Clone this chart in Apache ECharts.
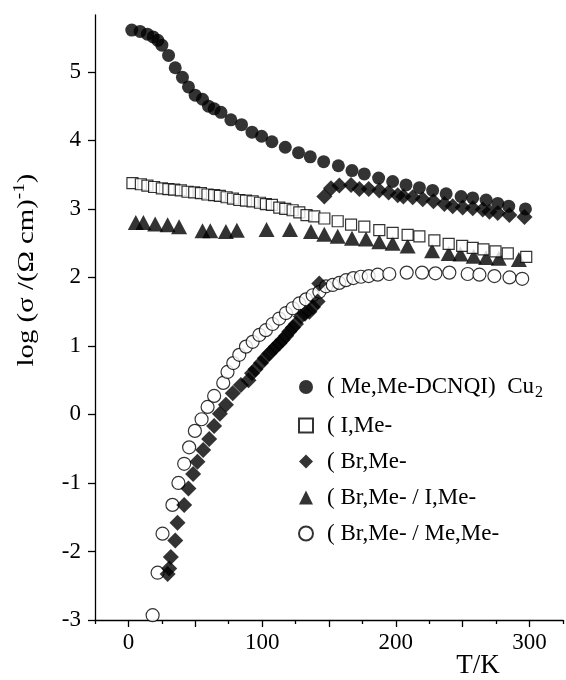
<!DOCTYPE html>
<html>
<head>
<meta charset="utf-8">
<script src="https://cdn.jsdelivr.net/npm/echarts@6/dist/echarts.min.js"></script>
<style>
html,body{margin:0;padding:0;background:#fff;}
#chart{width:566px;height:680px;}
</style>
</head>
<body>
<div id="chart"></div>
<script>
// ---- Data ----
const seriesNames = ['( Me,Me-DCNQI)  Cu', '( I,Me-', '( Br,Me-', '( Br,Me- / I,Me-', '( Br,Me- / Me,Me-'];

// (Me,Me-DCNQI)Cu2 : filled circles
const meMeT   = [2.5, 8.7, 14.2, 18.5, 22, 25, 30, 35, 40.4, 44.9, 49.9, 55.4, 59.9, 64.1, 69.2, 76.6, 84.6, 92.4, 99.6, 107.3, 117.3, 127.2, 136, 146, 157, 167.2, 176.4, 187.1, 197.6, 207.6, 217.6, 227.5, 237.6, 248.8, 257.5, 267.5, 276.2, 284.4, 296.9];
const meMeLog = [5.61, 5.59, 5.55, 5.51, 5.46, 5.39, 5.24, 5.06, 4.92, 4.78, 4.66, 4.60, 4.50, 4.46, 4.41, 4.30, 4.23, 4.12, 4.06, 3.98, 3.90, 3.82, 3.76, 3.69, 3.63, 3.56, 3.51, 3.45, 3.40, 3.35, 3.31, 3.27, 3.22, 3.18, 3.16, 3.13, 3.08, 3.04, 3.00];

// (I,Me-DCNQI)Cu2 : open squares
const iMeT   = [3, 9.3, 14.2, 19.2, 25, 29.9, 34.2, 39.2, 44.2, 49.2, 54.2, 59.1, 64.1, 68.4, 73.4, 78.2, 82.9, 87.9, 92.9, 98.4, 102.8, 107.3, 112.8, 117.3, 122.8, 127.8, 133.2, 139, 146.5, 156.5, 166.5, 176.4, 187.6, 197.6, 208.8, 217.6, 228.8, 239.5, 249.6, 257.5, 265.5, 274.5, 283.7, 297.5];
const iMeLog = [3.375, 3.36, 3.34, 3.32, 3.30, 3.29, 3.28, 3.27, 3.25, 3.24, 3.23, 3.21, 3.20, 3.19, 3.17, 3.15, 3.13, 3.12, 3.11, 3.09, 3.07, 3.06, 3.02, 3.00, 2.98, 2.95, 2.91, 2.89, 2.86, 2.82, 2.77, 2.74, 2.69, 2.65, 2.62, 2.60, 2.54, 2.49, 2.46, 2.43, 2.41, 2.38, 2.35, 2.30];

// (Br,Me-DCNQI)Cu2 : filled diamonds
const brMeT   = [29.3, 30.5, 31.7, 35, 36.7, 41.7, 44.9, 48.4, 51.6, 55.9, 60.4, 64.1, 68.4, 72.9, 78, 84.1, 89.8, 92.4, 95, 99.1, 102, 105.3, 108, 110.3, 113, 115.3, 118, 120.3, 123, 125.3, 129, 132, 135.3, 138, 141.5, 142.7, 146.5, 151.5, 157.7, 166.5, 172.7, 179.7, 187.6, 194.6, 201.4, 205.6, 212.6, 220.1, 228.1, 236.3, 242.5, 250, 257.5, 265, 270, 276.2, 284.9, 296.2];
const brMeLog = [-2.33, -2.25, -2.08, -1.84, -1.58, -1.32, -1.08, -0.87, -0.69, -0.52, -0.36, -0.17, 0.01, 0.14, 0.31, 0.43, 0.50, 0.60, 0.66, 0.75, 0.82, 0.89, 0.94, 0.99, 1.04, 1.09, 1.15, 1.21, 1.27, 1.32, 1.43, 1.47, 1.50, 1.57, 1.65, 1.91, 3.18, 3.30, 3.34, 3.35, 3.29, 3.29, 3.27, 3.24, 3.20, 3.18, 3.17, 3.14, 3.11, 3.07, 3.04, 3.02, 3.01, 2.99, 2.96, 2.94, 2.91, 2.88];

// (Br,Me- / I,Me-DCNQI)Cu2 : filled triangles
const brIT   = [5.5, 11.2, 20, 29.3, 37.9, 55.4, 61.2, 72.9, 81.1, 103.3, 120.8, 136.5, 146.5, 156.5, 167.2, 177.7, 187.6, 197.6, 208.8, 227.1, 239.5, 248.3, 258.2, 267.5, 277, 292];
const brILog = [2.80, 2.80, 2.78, 2.77, 2.74, 2.68, 2.68, 2.67, 2.69, 2.70, 2.70, 2.67, 2.63, 2.60, 2.57, 2.56, 2.52, 2.50, 2.46, 2.39, 2.35, 2.34, 2.31, 2.29, 2.28, 2.26];

// (Br,Me- / Me,Me-DCNQI)Cu2 : open circles
const brMeMeT   = [18.1, 21.8, 25.5, 32.9, 37.4, 41.7, 45.4, 49.7, 54.7, 59.2, 64.1, 70.9, 74.1, 78.4, 82.9, 87.9, 92.9, 97.9, 102.8, 107.8, 112.8, 117.8, 122.8, 127.8, 132.8, 137.8, 142.8, 147.8, 152.8, 157.7, 162.7, 168.2, 173.9, 179.7, 186.4, 195.1, 208.1, 219.6, 229.6, 240, 253.7, 262.5, 273.7, 285, 294.5];
const brMeMeLog = [-2.93, -2.31, -1.74, -1.32, -1.00, -0.72, -0.48, -0.24, -0.07, 0.11, 0.27, 0.46, 0.62, 0.75, 0.87, 0.99, 1.06, 1.16, 1.23, 1.32, 1.40, 1.48, 1.55, 1.62, 1.68, 1.74, 1.79, 1.87, 1.89, 1.92, 1.96, 1.99, 2.01, 2.02, 2.04, 2.05, 2.07, 2.07, 2.06, 2.07, 2.05, 2.04, 2.02, 2.00, 1.98];

// axis ticks / labels
const xLabelValues = [0, 100, 200, 300];
const xMajorTicks  = [0, 50, 100, 150, 200, 250, 300];
const xMinorTicks  = [-25, 25, 75, 125, 175, 225, 275, 325];
const yTickValues  = [-3, -2, -1, 0, 1, 2, 3, 4, 5];

const zip = (a, b) => a.map((v, i) => [v, b[i]]);
const FONT = 'Liberation Serif';

const chart = echarts.init(document.getElementById('chart'), null, {renderer: 'canvas'});

const filled = {color: '#000'};
const hollow = {color: '#fff', borderColor: '#000', borderWidth: 1.2};

chart.setOption({
  animation: false,
  backgroundColor: '#fff',
  grid: {left: 95, right: 3, top: 15, bottom: 60, containLabel: false},
  xAxis: [{
    type: 'value', min: -25, max: 325, interval: 25,
    axisLine: {show: true, onZero: false, lineStyle: {color: '#000', width: 1.3}},
    axisTick: {show: true, inside: false, length: 7, customValues: xMajorTicks, lineStyle: {color: '#000', width: 1.3}},
    axisLabel: {customValues: xLabelValues, margin: 11, fontFamily: FONT, fontSize: 23, color: '#000'},
    splitLine: {show: false}
  }, {
    type: 'value', min: -25, max: 325, interval: 25, position: 'bottom',
    axisLine: {show: false, onZero: false},
    axisTick: {show: true, length: 4, customValues: xMinorTicks, lineStyle: {color: '#000', width: 1.3}},
    axisLabel: {show: false},
    splitLine: {show: false}
  }],
  yAxis: {
    type: 'value', min: -3, max: 5.83, interval: 1,
    axisLine: {show: true, onZero: false, lineStyle: {color: '#000', width: 1.3}},
    axisTick: {show: true, length: 7, customValues: yTickValues, lineStyle: {color: '#000', width: 1.3}},
    axisLabel: {customValues: yTickValues, margin: 14, fontFamily: FONT, fontSize: 23, color: '#000'},
    splitLine: {show: false}
  },
  legend: {
    orient: 'vertical', left: 293, top: 368,
    itemWidth: 14, itemHeight: 14, itemGap: 13,
    data: [
      {name: seriesNames[0], icon: 'circle'},
      {name: seriesNames[1], icon: 'rect'},
      {name: seriesNames[2], icon: 'diamond'},
      {name: seriesNames[3], icon: 'triangle'},
      {name: seriesNames[4], icon: 'circle'}
    ],
    formatter: function (name) {
      return name === seriesNames[0] ? '{t|' + name + '}{sub|2}' : '{t|' + name + '}';
    },
    textStyle: {
      fontFamily: FONT, fontSize: 23, color: '#000', padding: [0, 0, 0, 9],
      rich: {
        t: {fontFamily: FONT, fontSize: 23, color: '#000', lineHeight: 24},
        sub: {fontFamily: FONT, fontSize: 16, color: '#000', padding: [12, 0, 0, 1], lineHeight: 24}
      }
    }
  },
  graphic: [{
    type: 'text', x: 27, y: 270, rotation: Math.PI / 2, scaleX: 1.2,
    style: {
      text: '{a|log (σ /(Ω cm)}{s|-1}{a|)}',
      align: 'center', verticalAlign: 'middle',
      rich: {
        a: {fontFamily: FONT, fontSize: 24, fill: '#000'},
        s: {fontFamily: FONT, fontSize: 16, fill: '#000', padding: [0, 0, 14, 0]}
      }
    }
  }, {
    type: 'text', x: 478, y: 666,
    style: {text: 'T/K', fontFamily: FONT, fontSize: 27, fill: '#000', align: 'center', verticalAlign: 'middle'}
  }],
  series: [
    {name: seriesNames[1], type: 'scatter', symbol: 'rect', symbolSize: 11, itemStyle: hollow, data: zip(iMeT, iMeLog), z: 3},
    {name: seriesNames[3], type: 'scatter', symbol: 'triangle', symbolSize: [16, 15], itemStyle: filled, data: zip(brIT, brILog), z: 2},
    {name: seriesNames[4], type: 'scatter', symbol: 'circle', symbolSize: 13, itemStyle: hollow, data: zip(brMeMeT, brMeMeLog), z: 4},
    {name: seriesNames[2], type: 'scatter', symbol: 'diamond', symbolSize: 16, itemStyle: filled, data: zip(brMeT, brMeLog), z: 5},
    {name: seriesNames[0], type: 'scatter', symbol: 'circle', symbolSize: 13, itemStyle: filled, data: zip(meMeT, meMeLog), z: 6}
  ]
});
</script>
</body>
</html>
